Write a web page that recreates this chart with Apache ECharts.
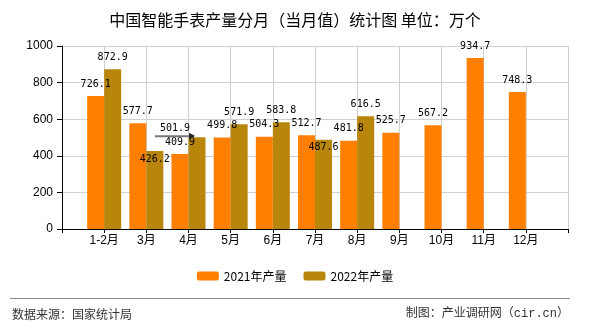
<!DOCTYPE html>
<html><head><meta charset="utf-8">
<script src="https://cdn.jsdelivr.net/npm/echarts@6/dist/echarts.min.js"></script>
<style>html,body{margin:0;padding:0;background:#fff}#c{width:590px;height:330px}</style>
</head><body><div id="c"></div>
<script>
const months = ['1-2月','3月','4月','5月','6月','7月','8月','9月','10月','11月','12月'];
const output2021 = [726.1,577.7,409.9,499.8,504.3,512.7,481.8,525.7,567.2,934.7,748.3];
const output2022 = [872.9,426.2,501.9,571.9,583.8,487.6,616.5,null,null,null,null];
const seriesNames = ['2021年产量','2022年产量'];
const yMin = 0, yMax = 1000, yStep = 200;
const titleText = '中国智能手表产量分月（当月值）统计图 单位：万个';
const sourceText = '数据来源：国家统计局';
const creditText = '制图：产业调研网（cir.cn）';

// styling: label nudges for the 2022 series (index into months)
const labelShift2022 = {1:[0,20], 2:[-22,7], 5:[0,20]};
const arrowIndex2022 = 2;

const cats = [''].concat(months, ['']);
function pad(arr){ return [null].concat(arr, [null]); }

const labelFont = {fontFamily:'DejaVu Sans Mono', fontSize:10, color:'#000', distance:6, lineHeight:12};

const d2022 = pad(output2022).map((v,i)=>{
  if (i-1 === arrowIndex2022) {
    return {value:v, label:{
      formatter:'{v|{c}}\n{ln|}{ar|▶}',
      rich:{
        v:{fontFamily:'DejaVu Sans Mono', fontSize:10, color:'#000', lineHeight:12},
        ln:{width:34, height:2, backgroundColor:'#777', lineHeight:4},
        ar:{fontSize:8, color:'#222', lineHeight:4, fontFamily:'DejaVu Sans'}
      }}};
  }
  return v;
});

const chart = echarts.init(document.getElementById('c'), null, {renderer:'canvas'});
chart.setOption({
  animation:false,
  backgroundColor:'#fff',
  title:{text:titleText, left:'center', top:7,
    textStyle:{fontSize:16, fontWeight:'normal', color:'#000', fontFamily:'Noto Sans CJK SC'}},
  legend:{bottom:43, left:'center', itemWidth:22, itemHeight:9, itemGap:17,
    textStyle:{fontSize:12, color:'#000', fontFamily:'Noto Sans CJK SC'},
    data:seriesNames},
  grid:{left:62, right:22, top:46, bottom:101, containLabel:false},
  xAxis:{type:'category', data:cats, boundaryGap:false,
    axisLine:{lineStyle:{color:'#000'}},
    axisTick:{length:4, lineStyle:{color:'#000'}},
    axisLabel:{margin:6, fontSize:12, color:'#000', fontFamily:'Liberation Sans, Noto Sans CJK SC', interval:0},
    splitLine:{show:true, lineStyle:{color:'#d0d0d0'}}},
  yAxis:{type:'value', min:yMin, max:yMax, interval:yStep,
    axisLine:{show:true, lineStyle:{color:'#000'}},
    axisTick:{show:true, length:5, lineStyle:{color:'#000'}},
    axisLabel:{margin:9, fontSize:12, color:'#000', fontFamily:'Liberation Sans', formatter:function(v){return String(v);}},
    splitLine:{lineStyle:{color:'#d0d0d0'}}},
  series:[
    {name:seriesNames[0], type:'bar', data:pad(output2021), barWidth:17, barGap:'0%',
      itemStyle:{color:'#FF8000'},
      label:Object.assign({show:true, position:'top'}, labelFont)},
    {name:seriesNames[1], type:'bar', data:d2022, barWidth:17, barGap:'0%',
      itemStyle:{color:'#B8860B'},
      label:Object.assign({show:true, position:'top'}, labelFont),
      labelLayout:function(p){
        const s = labelShift2022[p.dataIndex-1];
        return s ? {dx:s[0], dy:s[1]} : {};
      }}
  ],
  graphic:[
    {type:'line', shape:{x1:10, y1:298.5, x2:570, y2:298.5}, style:{stroke:'#888', lineWidth:1}},
    {type:'text', left:12, top:308, style:{text:sourceText, fontSize:12, fill:'#333', fontFamily:'Noto Sans CJK SC'}},
    {type:'text', right:21, top:308, style:{text:creditText, fontSize:12, fill:'#333', fontFamily:'Liberation Mono, Noto Sans CJK SC'}}
  ]
});
</script></body></html>
